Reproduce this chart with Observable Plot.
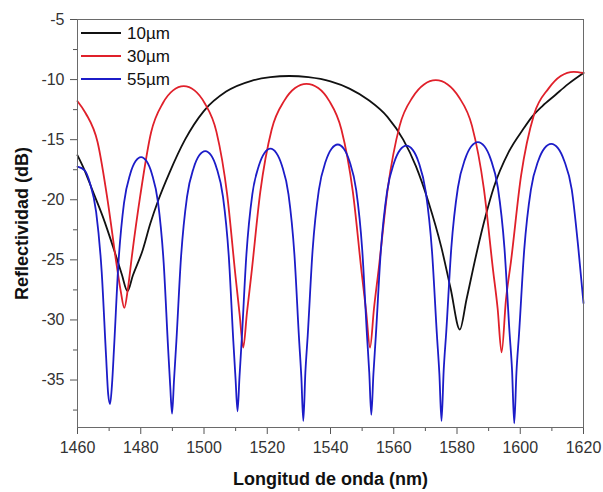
<!DOCTYPE html>
<html>
<head>
<meta charset="utf-8">
<script src="https://cdn.jsdelivr.net/npm/d3@7"></script>
<script src="https://cdn.jsdelivr.net/npm/@observablehq/plot@0.6"></script>
<style>
  html, body { margin: 0; padding: 0; background: #fff; }
  #wrap { position: relative; width: 603px; height: 492px; }
  #legend { position: absolute; left: 0; top: 0; }
  svg g[aria-label="x-axis label"] text, svg g[aria-label="y-axis label"] text { font-weight: bold; font-size: 18px; fill: #111; }
</style>
</head>
<body>
<div id="wrap"></div>
<script>
// ---- Data ----
const seriesNames = ["10µm", "30µm", "55µm"];
const seriesColors = ["#111111", "#e0202a", "#1c1cc8"];

const xMajor = [1460, 1480, 1500, 1520, 1540, 1560, 1580, 1600, 1620];
const xMinor = [1470, 1490, 1510, 1530, 1550, 1570, 1590, 1610];
const yMajor = [-35, -30, -25, -20, -15, -10, -5];
const yMinor = [-37.5, -32.5, -27.5, -22.5, -17.5, -12.5, -7.5];

// 10 µm
const wl10 = [1460,1462,1464.7,1468,1471.6,1474,1475.8,1477.5,1480.6,1483,1485.6,1489,1494,1500,1507,1515,1521,1527,1533,1540,1546,1552,1558,1563,1567,1571,1575,1578,1580.9,1583,1586.4,1589,1591.6,1596.4,1601,1603.7,1607,1611,1615,1620];
const r10 = [-16.3,-17.4,-19.2,-21.4,-24.2,-26.2,-27.6,-26.3,-24.2,-22.0,-20.0,-17.8,-15.0,-12.6,-11.0,-10.1,-9.8,-9.7,-9.8,-10.15,-10.75,-11.7,-13.1,-15.0,-17.2,-20.2,-23.9,-27.4,-30.8,-28.3,-24.2,-21.4,-19.0,-16.0,-14.1,-13.1,-12.2,-11.3,-10.4,-9.45];

// 30 µm
const wl30 = [1460,1462.58,1466.34,1469.72,1472.36,1473.67,1474.8,1475.93,1477.24,1479.88,1483.26,1487.02,1490.22,1493.6,1496.98,1500.18,1503.94,1507.32,1509.96,1511.27,1512.4,1513.6,1515.0,1517.8,1521.4,1525.4,1528.8,1532.4,1536.12,1539.54,1543.45,1547.07,1549.89,1551.29,1552.5,1553.75,1555.2,1558.12,1561.86,1566.02,1569.56,1573.3,1577.04,1580.58,1584.74,1588.48,1591.4,1592.85,1594.1,1595.47,1597.06,1600.26,1604.36,1608.92,1612.8,1616.9,1620];
const r30 = [-11.8,-12.8,-15.2,-20.4,-25.4,-27.6,-29.0,-27.4,-24.6,-19.6,-14.4,-11.95,-10.9,-10.55,-10.9,-11.95,-14.35,-19.55,-26.35,-29.55,-32.3,-29.35,-26.15,-19.35,-14.15,-11.75,-10.7,-10.35,-10.7,-11.75,-14.15,-19.35,-26.15,-29.35,-32.3,-29.05,-25.85,-19.05,-13.85,-11.45,-10.4,-10.05,-10.4,-11.45,-13.85,-19.05,-25.85,-29.05,-32.7,-28.35,-25.15,-18.0,-12.9,-10.75,-9.7,-9.35,-9.45];

// 55 µm
const wl55 = [1460,1462.26,1463.93,1465.89,1467.65,1469.03,1469.71,1470.3,1470.89,1471.57,1472.95,1474.71,1476.67,1478.34,1480.1,1481.86,1483.53,1485.49,1487.25,1488.63,1489.31,1489.9,1490.53,1491.27,1492.74,1494.63,1496.73,1498.51,1500.4,1502.24,1503.97,1506.01,1507.85,1509.27,1509.99,1510.6,1511.22,1511.95,1513.41,1515.28,1517.36,1519.13,1521.0,1522.87,1524.64,1526.72,1528.59,1530.05,1530.78,1531.4,1532.05,1532.82,1534.34,1536.31,1538.49,1540.34,1542.3,1544.21,1546.01,1548.13,1550.04,1551.52,1552.26,1552.9,1553.57,1554.34,1555.9,1557.9,1560.12,1562.0,1564.0,1566.0,1567.89,1570.1,1572.1,1573.66,1574.43,1575.1,1575.79,1576.6,1578.2,1580.28,1582.58,1584.53,1586.6,1588.67,1590.63,1592.93,1595.0,1596.6,1597.41,1598.1,1598.8,1599.62,1601.26,1603.37,1605.7,1607.69,1609.8,1611.92,1613.9,1616.29,1618.41,1620];
const r55 = [-17.25,-17.55,-18.6,-21.0,-26.0,-33.0,-36.2,-37.0,-35.45,-32.25,-25.25,-20.25,-17.85,-16.8,-16.45,-16.8,-17.85,-20.25,-25.25,-32.25,-35.45,-37.8,-34.95,-31.75,-24.75,-19.75,-17.35,-16.3,-15.95,-16.3,-17.35,-19.75,-24.75,-31.75,-34.95,-37.6,-34.75,-31.55,-24.55,-19.55,-17.15,-16.1,-15.75,-16.1,-17.15,-19.55,-24.55,-31.55,-34.75,-38.4,-34.4,-31.2,-24.2,-19.2,-16.8,-15.75,-15.4,-15.75,-16.8,-19.2,-24.2,-31.2,-34.4,-37.9,-34.5,-31.3,-24.3,-19.3,-16.9,-15.85,-15.5,-15.85,-16.9,-19.3,-24.3,-31.3,-34.5,-38.4,-34.2,-31.0,-24.0,-19.0,-16.6,-15.55,-15.2,-15.55,-16.6,-19.0,-24.0,-31.0,-34.2,-38.6,-34.35,-31.15,-24.15,-19.15,-16.75,-15.7,-15.35,-15.7,-16.75,-19.15,-24.15,-28.6];

// ---- Build tables ----
const toRows = (wl, r, s) => wl.map((w, i) => ({wl: w, r: r[i], series: s}));
const rows = [toRows(wl10, r10, seriesNames[0]), toRows(wl30, r30, seriesNames[1]), toRows(wl55, r55, seriesNames[2])];
const fmt = d => String(d);

const chart = Plot.plot({
  width: 603,
  height: 492,
  marginLeft: 77,
  marginRight: 20,
  marginTop: 19,
  marginBottom: 65,
  style: {fontFamily: "'Liberation Sans', Arial, sans-serif", fontSize: "16px", color: "#333", background: "#fff"},
  x: {domain: [1460, 1620]},
  y: {domain: [-38.95, -5]},
  color: {domain: seriesNames, range: seriesColors},
  marks: [
    Plot.axisX(xMinor, {tickSize: 4, text: null, label: null, stroke: "#555"}),
    Plot.axisX(xMajor, {tickSize: 7, tickPadding: 7, tickFormat: fmt, stroke: "#555",
      label: "Longitud de onda (nm)", labelAnchor: "center", labelArrow: false, labelOffset: 57}),
    Plot.axisY(yMinor, {tickSize: 4, text: null, label: null, stroke: "#555"}),
    Plot.axisY(yMajor, {tickSize: 7, tickPadding: 6, tickFormat: fmt, stroke: "#555",
      label: "Reflectividad (dB)", labelAnchor: "center", labelArrow: false, labelOffset: 62}),
    ...rows.map(d => Plot.line(d, {x: "wl", y: "r", stroke: "series", strokeWidth: 1.8, curve: "monotone-x"})),
    Plot.frame({stroke: "#6a6a6a"})
  ]
});

const wrap = document.getElementById("wrap");
wrap.appendChild(chart);

// ---- Legend (overlay inside the plot frame, top-left) ----
const ns = "http://www.w3.org/2000/svg";
const leg = document.createElementNS(ns, "svg");
leg.setAttribute("id", "legend");
leg.setAttribute("width", 200);
leg.setAttribute("height", 100);
seriesNames.forEach((name, i) => {
  const y = 33 + i * 23;
  const ln = document.createElementNS(ns, "line");
  ln.setAttribute("x1", 81); ln.setAttribute("x2", 121);
  ln.setAttribute("y1", y); ln.setAttribute("y2", y);
  ln.setAttribute("stroke", seriesColors[i]); ln.setAttribute("stroke-width", 2);
  leg.appendChild(ln);
  const tx = document.createElementNS(ns, "text");
  tx.setAttribute("x", 127); tx.setAttribute("y", y);
  tx.setAttribute("dy", "0.36em");
  tx.setAttribute("font-family", "'Liberation Sans', Arial, sans-serif");
  tx.setAttribute("font-size", 17);
  tx.setAttribute("fill", "#111");
  tx.textContent = name;
  leg.appendChild(tx);
});
wrap.appendChild(leg);
</script>
</body>
</html>
